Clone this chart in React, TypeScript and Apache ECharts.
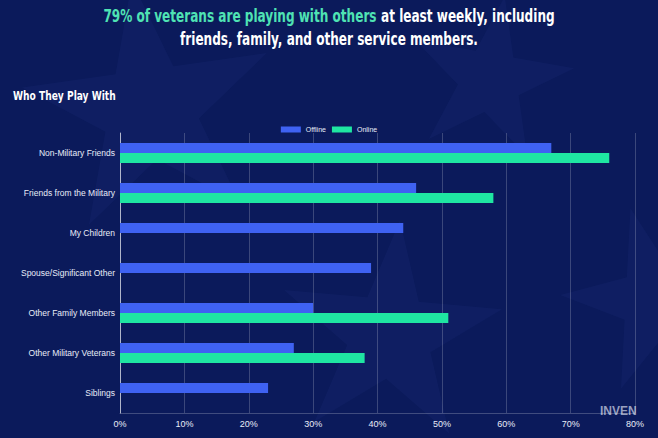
import React, { useEffect, useRef } from "react";
import * as echarts from "echarts";

const categories = [
  "Non-Military Friends",
  "Friends from the Military",
  "My Children",
  "Spouse/Significant Other",
  "Other Family Members",
  "Other Military Veterans",
  "Siblings",
];
const offlineValues = [67, 46, 44, 39, 30, 27, 23];
const onlineValues: (number | null)[] = [76, 58, null, null, 51, 38, null];
const seriesNames = ["Offline", "Online"];
const xMax = 80;
const xInterval = 10;

const titleGreen = "79% of veterans are playing with others";
const titleWhite1 = " at least weekly, including";
const titleLine2 = "friends, family, and other service members.";
const subtitle = "Who They Play With";

const titleFont = "'DejaVu Sans Condensed', sans-serif";

function starPoints(cx: number, cy: number, R: number, rotDeg: number) {
  const pts: number[][] = [];
  const r = R * 0.382;
  for (let i = 0; i < 10; i++) {
    const a = ((-90 + rotDeg + i * 36) * Math.PI) / 180;
    const rad = i % 2 === 0 ? R : r;
    pts.push([cx + rad * Math.cos(a), cy + rad * Math.sin(a)]);
  }
  return pts;
}

export default function App() {
  const ref = useRef<HTMLDivElement>(null);
  useEffect(() => {
    if (!ref.current) return;
    const chart = echarts.init(ref.current, null, { renderer: "svg" });
    const starFill = "rgba(120,150,255,0.045)";
    const stars = [
      [150, 110, 130, -8],
      [490, 80, 85, 10],
      [390, 335, 115, 5],
      [655, 300, 95, -15],
    ].map(([cx, cy, R, rot]) => ({
      type: "polygon",
      silent: true,
      z: -10,
      shape: { points: starPoints(cx, cy, R, rot) },
      style: { fill: starFill },
    }));
    chart.setOption({
      animation: false,
      backgroundColor: "#0b1a5b",
      color: ["#3f62f2", "#1fe6a2"],
      graphic: [
        ...stars,
        {
          type: "text",
          x: 329,
          y: 16,
          scaleX: 0.79,
          style: {
            text: `{g|${titleGreen}}{w|${titleWhite1}}`,
            align: "center",
            verticalAlign: "middle",
            rich: {
              g: {
                fill: "#4fe3b4",
                fontSize: 17,
                fontWeight: "bold",
                fontFamily: titleFont,
              },
              w: {
                fill: "#ffffff",
                fontSize: 17,
                fontWeight: "bold",
                fontFamily: titleFont,
              },
            },
          },
        },
        {
          type: "text",
          x: 329,
          y: 39,
          scaleX: 0.79,
          style: {
            text: titleLine2,
            align: "center",
            verticalAlign: "middle",
            fill: "#ffffff",
            fontSize: 17,
            fontWeight: "bold",
            fontFamily: titleFont,
          },
        },
        {
          type: "text",
          x: 13,
          y: 96,
          scaleX: 0.78,
          style: {
            text: subtitle,
            align: "left",
            verticalAlign: "middle",
            fill: "#ffffff",
            fontSize: 13,
            fontWeight: "bold",
            fontFamily: titleFont,
          },
        },
        {
          type: "text",
          left: 600,
          top: 405,
          style: {
            text: "INVEN",
            fill: "rgba(200,205,225,0.75)",
            fontSize: 12,
            fontWeight: "bold",
            fontFamily: "Liberation Sans",
          },
        },
      ],
      legend: {
        data: seriesNames,
        left: "center",
        top: 121,
        itemWidth: 20,
        itemHeight: 6,
        itemGap: 6,
        icon: "rect",
        textStyle: { color: "#e8ecf8", fontSize: 7, fontFamily: "Liberation Sans" },
      },
      grid: { left: 120, right: 23, top: 133, bottom: 25, containLabel: false },
      xAxis: {
        type: "value",
        min: 0,
        max: xMax,
        interval: xInterval,
        axisLabel: {
          color: "#e8ecf8",
          fontSize: 9,
          fontFamily: "Liberation Sans",
          margin: 6,
          formatter: "{value}%",
        },
        axisLine: { show: true, lineStyle: { color: "rgba(255,255,255,0.22)" } },
        axisTick: { show: false },
        splitLine: { show: true, lineStyle: { color: "rgba(255,255,255,0.2)" } },
      },
      yAxis: {
        type: "category",
        data: categories,
        inverse: true,
        axisLabel: {
          color: "#e8ecf8",
          fontSize: 8.5,
          fontFamily: "Liberation Sans",
          margin: 5,
        },
        axisLine: { show: true, lineStyle: { color: "rgba(255,255,255,0.6)" } },
        axisTick: { show: false },
      },
      series: [
        {
          name: seriesNames[0],
          type: "bar",
          data: offlineValues,
          barWidth: 10,
          barGap: "0%",
        },
        {
          name: seriesNames[1],
          type: "bar",
          data: onlineValues,
          barWidth: 10,
          barGap: "0%",
        },
      ],
    });
    return () => chart.dispose();
  }, []);
  return (
    <div
      ref={ref}
      style={{ position: "fixed", left: 0, top: 0, width: 658, height: 438 }}
    />
  );
}
